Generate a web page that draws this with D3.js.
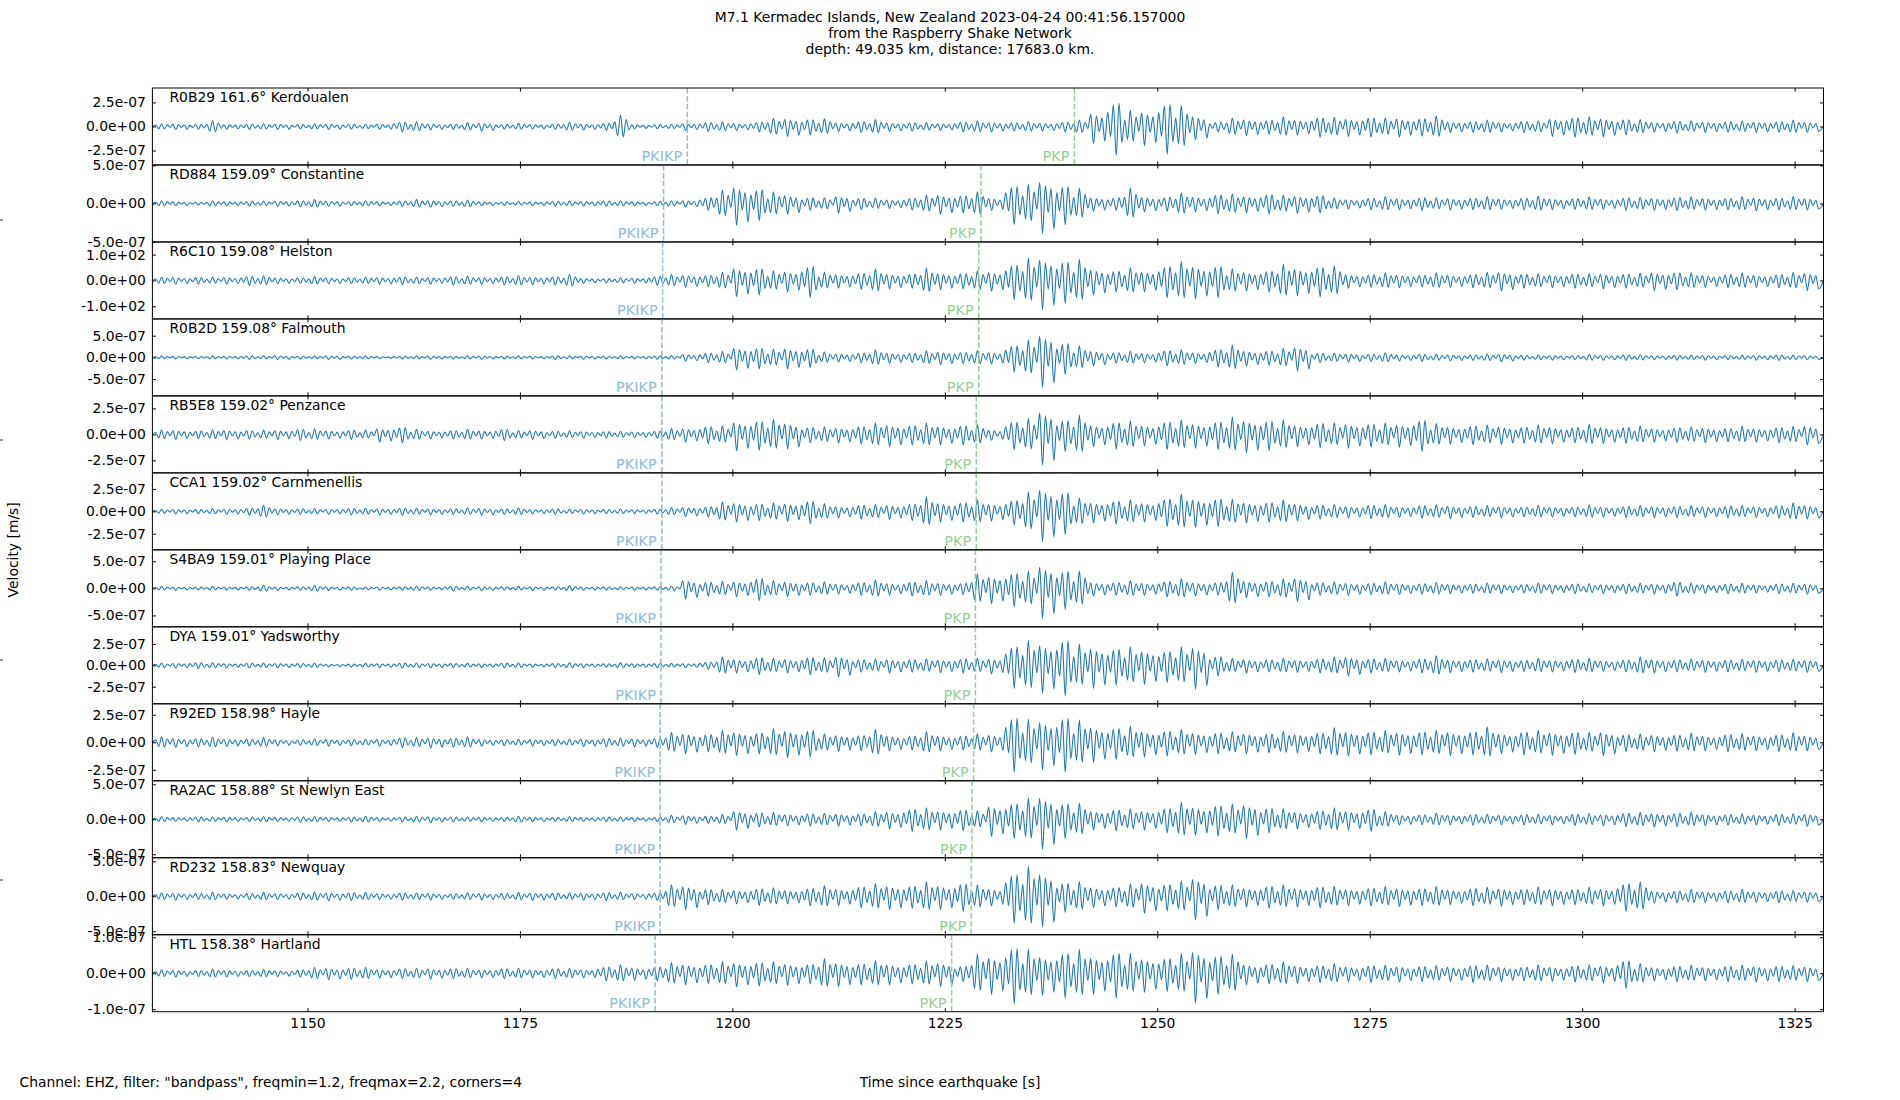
<!DOCTYPE html>
<html>
<head>
<meta charset="utf-8">
<script src="https://cdn.jsdelivr.net/npm/d3@7"></script>
<style>
  body { margin: 0; background: #fff; }
  svg { font-family: "DejaVu Sans", sans-serif; }
</style>
</head>
<body>
<div id="chart"></div>
<script>
// Stations, top to bottom
const stations = ["R0B29", "RD884", "R6C10", "R0B2D", "RB5E8", "CCA1", "S4BA9", "DYA", "R92ED", "RA2AC", "RD232", "HTL"];
const distances = ["161.6", "159.09", "159.08", "159.08", "159.02", "159.02", "159.01", "159.01", "158.98", "158.88", "158.83", "158.38"];
const places = ["Kerdoualen", "Constantine", "Helston", "Falmouth", "Penzance", "Carnmenellis", "Playing Place", "Yadsworthy", "Hayle", "St Newlyn East", "Newquay", "Hartland"];

// y limit (+/-) and labelled tick of each panel
const yMax = [4.0e-7, 5.05e-7, 149, 8.85e-7, 3.7e-7, 4.3e-7, 7.1e-7, 4.5e-7, 3.5e-7, 5.5e-7, 5.5e-7, 1.07e-7];
const tickStep = [2.5e-7, 5e-7, 100, 5e-7, 2.5e-7, 2.5e-7, 5e-7, 2.5e-7, 2.5e-7, 5e-7, 5e-7, 1e-7];

// phase arrival times [s]
const pkikpTimes = [1194.7, 1191.9, 1191.8, 1191.7, 1191.7, 1191.7, 1191.6, 1191.6, 1191.5, 1191.5, 1191.5, 1190.9];
const pkpTimes = [1240.25, 1229.25, 1229.0, 1229.0, 1228.7, 1228.7, 1228.6, 1228.6, 1228.4, 1228.2, 1228.1, 1225.8];

const xTicks = [1150, 1175, 1200, 1225, 1250, 1275, 1300, 1325];
const xDomain = [1131.75, 1328.4];

// trace envelopes: 2 s bins from 1132 s, fraction of each panel's y limit
const binStart = 1132;
const binWidth = 2;
const envR0B29 = [0.07,0.08,0.07,0.15,0.07,0.08,0.07,0.08,0.06,0.07,
  0.08,0.07,0.06,0.08,0.14,0.12,0.09,0.08,0.10,0.12,
  0.07,0.08,0.07,0.08,0.11,0.09,0.10,0.30,0.06,0.06,
  0.06,0.10,0.13,0.12,0.10,0.14,0.22,0.26,0.22,0.20,
  0.13,0.15,0.18,0.13,0.12,0.10,0.10,0.14,0.15,0.14,
  0.12,0.13,0.12,0.14,0.17,0.45,0.75,0.42,0.50,0.72,
  0.55,0.35,0.14,0.22,0.24,0.20,0.25,0.22,0.28,0.24,
  0.26,0.28,0.22,0.27,0.25,0.28,0.16,0.15,0.17,0.14,
  0.16,0.15,0.26,0.28,0.25,0.27,0.22,0.18,0.15,0.17,
  0.14,0.16,0.15,0.14,0.16,0.15,0.17,0.15];
const envRD884 = [0.07,0.06,0.04,0.07,0.06,0.07,0.06,0.08,0.09,0.10,
  0.08,0.06,0.07,0.06,0.08,0.10,0.10,0.08,0.09,0.06,
  0.05,0.05,0.06,0.07,0.06,0.07,0.08,0.07,0.06,0.06,
  0.07,0.10,0.18,0.35,0.57,0.45,0.30,0.28,0.18,0.15,
  0.25,0.16,0.14,0.13,0.17,0.22,0.28,0.25,0.30,0.18,
  0.55,0.50,0.78,0.55,0.40,0.20,0.18,0.40,0.22,0.20,
  0.28,0.22,0.27,0.25,0.24,0.28,0.22,0.26,0.25,0.15,
  0.14,0.17,0.18,0.16,0.18,0.15,0.17,0.16,0.18,0.15,
  0.17,0.19,0.16,0.15,0.17,0.15,0.18,0.16,0.18,0.19,
  0.17,0.18,0.16,0.18,0.19,0.17,0.18,0.17];
const envR6C10 = [0.09,0.10,0.09,0.08,0.10,0.13,0.12,0.09,0.08,0.10,
  0.09,0.08,0.09,0.10,0.11,0.09,0.10,0.12,0.11,0.10,
  0.12,0.13,0.11,0.12,0.16,0.07,0.06,0.07,0.08,0.13,
  0.15,0.18,0.16,0.22,0.42,0.38,0.25,0.30,0.45,0.22,
  0.20,0.23,0.30,0.22,0.20,0.32,0.24,0.22,0.25,0.28,
  0.50,0.58,0.76,0.60,0.55,0.38,0.30,0.33,0.30,0.45,
  0.50,0.48,0.45,0.30,0.28,0.30,0.42,0.40,0.43,0.38,
  0.20,0.18,0.20,0.19,0.17,0.20,0.18,0.19,0.21,0.28,
  0.20,0.18,0.19,0.20,0.18,0.22,0.20,0.19,0.27,0.25,
  0.20,0.18,0.19,0.20,0.18,0.19,0.21,0.26];
const envR0B2D = [0.04,0.04,0.03,0.04,0.04,0.05,0.04,0.06,0.04,0.04,
  0.06,0.04,0.04,0.03,0.04,0.04,0.05,0.04,0.04,0.05,
  0.04,0.04,0.04,0.05,0.04,0.05,0.04,0.04,0.04,0.05,
  0.05,0.10,0.13,0.15,0.33,0.30,0.22,0.30,0.26,0.14,
  0.12,0.14,0.20,0.15,0.13,0.17,0.19,0.16,0.18,0.17,
  0.38,0.45,0.78,0.45,0.30,0.22,0.15,0.16,0.14,0.22,
  0.20,0.16,0.25,0.32,0.22,0.20,0.24,0.35,0.13,0.11,
  0.12,0.10,0.12,0.09,0.10,0.08,0.09,0.08,0.09,0.11,
  0.07,0.06,0.07,0.06,0.08,0.07,0.08,0.07,0.06,0.07,
  0.06,0.07,0.06,0.06,0.07,0.08,0.06,0.06];
const envRB5E8 = [0.12,0.13,0.11,0.12,0.14,0.12,0.11,0.13,0.16,0.14,
  0.12,0.13,0.11,0.20,0.22,0.13,0.11,0.12,0.13,0.12,
  0.16,0.10,0.13,0.10,0.09,0.10,0.09,0.08,0.09,0.10,
  0.15,0.20,0.25,0.22,0.43,0.42,0.40,0.38,0.22,0.20,
  0.22,0.25,0.30,0.32,0.28,0.30,0.27,0.28,0.25,0.15,
  0.40,0.42,0.80,0.45,0.50,0.32,0.38,0.35,0.30,0.40,
  0.38,0.36,0.40,0.45,0.48,0.42,0.38,0.32,0.35,0.30,
  0.36,0.33,0.30,0.34,0.45,0.28,0.25,0.27,0.24,0.26,
  0.23,0.25,0.24,0.22,0.26,0.24,0.23,0.22,0.20,0.21,
  0.20,0.22,0.19,0.21,0.20,0.22,0.21,0.28];
const envCCA1 = [0.06,0.07,0.06,0.07,0.08,0.10,0.16,0.09,0.08,0.07,
  0.08,0.09,0.08,0.09,0.10,0.08,0.09,0.08,0.09,0.10,
  0.08,0.09,0.07,0.08,0.06,0.07,0.06,0.06,0.06,0.07,
  0.10,0.14,0.15,0.25,0.28,0.24,0.22,0.26,0.32,0.20,
  0.17,0.20,0.18,0.21,0.24,0.38,0.28,0.28,0.30,0.25,
  0.35,0.50,0.78,0.60,0.35,0.30,0.33,0.30,0.28,0.40,
  0.45,0.42,0.40,0.32,0.30,0.28,0.30,0.25,0.20,0.18,
  0.17,0.19,0.18,0.16,0.18,0.17,0.19,0.16,0.15,0.17,
  0.14,0.16,0.15,0.14,0.17,0.15,0.16,0.15,0.17,0.16,
  0.15,0.16,0.17,0.15,0.16,0.18,0.22,0.20];
const envS4BA9 = [0.05,0.05,0.04,0.05,0.05,0.05,0.08,0.05,0.05,0.08,
  0.06,0.05,0.04,0.05,0.05,0.06,0.05,0.07,0.05,0.06,
  0.05,0.05,0.06,0.05,0.07,0.05,0.05,0.04,0.05,0.05,
  0.06,0.28,0.20,0.18,0.22,0.32,0.20,0.22,0.18,0.17,
  0.15,0.18,0.22,0.17,0.20,0.20,0.18,0.16,0.38,0.40,
  0.48,0.45,0.78,0.55,0.45,0.20,0.18,0.20,0.18,0.22,
  0.25,0.20,0.18,0.42,0.25,0.22,0.25,0.35,0.18,0.17,
  0.18,0.16,0.17,0.16,0.15,0.16,0.14,0.13,0.14,0.13,
  0.12,0.14,0.13,0.14,0.12,0.13,0.14,0.13,0.15,0.20,
  0.14,0.13,0.14,0.13,0.12,0.14,0.13,0.15];
const envDYA = [0.06,0.07,0.09,0.07,0.06,0.07,0.06,0.07,0.06,0.06,
  0.04,0.04,0.05,0.06,0.07,0.06,0.07,0.06,0.05,0.06,
  0.07,0.06,0.05,0.06,0.07,0.06,0.05,0.07,0.06,0.06,
  0.05,0.06,0.10,0.22,0.20,0.24,0.18,0.20,0.25,0.20,
  0.30,0.18,0.16,0.20,0.18,0.17,0.19,0.20,0.18,0.22,
  0.60,0.65,0.72,0.80,0.55,0.60,0.52,0.48,0.50,0.45,
  0.48,0.62,0.28,0.18,0.20,0.17,0.19,0.18,0.20,0.22,
  0.28,0.20,0.18,0.17,0.20,0.25,0.19,0.18,0.17,0.19,
  0.16,0.18,0.17,0.19,0.18,0.16,0.17,0.22,0.20,0.17,
  0.16,0.18,0.17,0.16,0.18,0.17,0.16,0.18];
const envR92ED = [0.14,0.13,0.12,0.13,0.11,0.10,0.12,0.09,0.08,0.09,
  0.10,0.09,0.08,0.10,0.14,0.12,0.15,0.13,0.14,0.10,
  0.09,0.08,0.10,0.09,0.08,0.11,0.12,0.11,0.12,0.13,
  0.26,0.30,0.25,0.32,0.35,0.30,0.36,0.40,0.38,0.22,
  0.24,0.22,0.34,0.22,0.20,0.28,0.22,0.20,0.22,0.25,
  0.78,0.60,0.72,0.78,0.58,0.52,0.45,0.42,0.38,0.36,
  0.34,0.32,0.30,0.28,0.30,0.27,0.29,0.28,0.30,0.38,
  0.36,0.33,0.31,0.34,0.33,0.32,0.35,0.33,0.40,0.30,
  0.33,0.31,0.34,0.32,0.26,0.35,0.24,0.22,0.25,0.23,
  0.24,0.22,0.25,0.23,0.22,0.24,0.25,0.22];
const envRA2AC = [0.07,0.06,0.07,0.06,0.07,0.06,0.07,0.06,0.08,0.07,
  0.06,0.07,0.08,0.06,0.07,0.08,0.09,0.07,0.06,0.07,
  0.06,0.08,0.07,0.06,0.07,0.06,0.07,0.06,0.06,0.06,
  0.10,0.13,0.10,0.12,0.28,0.20,0.18,0.17,0.18,0.16,
  0.18,0.17,0.20,0.25,0.32,0.30,0.28,0.30,0.22,0.45,
  0.50,0.55,0.78,0.50,0.42,0.28,0.30,0.27,0.28,0.35,
  0.45,0.42,0.44,0.40,0.50,0.35,0.28,0.25,0.27,0.30,
  0.28,0.32,0.20,0.15,0.14,0.16,0.14,0.15,0.13,0.14,
  0.15,0.13,0.14,0.16,0.15,0.17,0.19,0.18,0.20,0.19,
  0.18,0.17,0.15,0.14,0.15,0.16,0.14,0.18];
const envRD232 = [0.09,0.10,0.09,0.10,0.08,0.09,0.10,0.09,0.10,0.11,
  0.12,0.11,0.10,0.09,0.10,0.09,0.10,0.08,0.09,0.10,
  0.09,0.10,0.11,0.10,0.09,0.10,0.11,0.10,0.09,0.11,
  0.30,0.35,0.22,0.18,0.20,0.24,0.22,0.20,0.25,0.28,
  0.24,0.30,0.33,0.35,0.32,0.38,0.35,0.40,0.30,0.25,
  0.70,0.78,0.80,0.42,0.38,0.30,0.28,0.32,0.45,0.38,
  0.40,0.62,0.35,0.30,0.28,0.32,0.30,0.28,0.30,0.26,
  0.24,0.26,0.25,0.27,0.24,0.26,0.22,0.25,0.23,0.26,
  0.22,0.24,0.25,0.22,0.23,0.25,0.40,0.38,0.18,0.17,
  0.18,0.16,0.17,0.18,0.16,0.17,0.15,0.16];
const envHTL = [0.09,0.10,0.09,0.11,0.10,0.09,0.10,0.09,0.10,0.15,
  0.17,0.16,0.15,0.13,0.14,0.13,0.15,0.14,0.13,0.12,
  0.14,0.13,0.12,0.14,0.13,0.12,0.20,0.22,0.18,0.20,
  0.28,0.30,0.27,0.30,0.36,0.34,0.30,0.32,0.28,0.38,
  0.35,0.30,0.33,0.30,0.28,0.32,0.35,0.22,0.50,0.55,
  0.80,0.62,0.58,0.65,0.62,0.55,0.65,0.52,0.50,0.48,
  0.52,0.78,0.55,0.50,0.30,0.28,0.30,0.26,0.24,0.25,
  0.22,0.24,0.21,0.23,0.22,0.20,0.22,0.24,0.21,0.22,
  0.20,0.22,0.21,0.23,0.22,0.25,0.40,0.25,0.20,0.22,
  0.21,0.20,0.22,0.21,0.23,0.22,0.20,0.22];
const envelopes = [envR0B29, envRD884, envR6C10, envR0B2D, envRB5E8, envCCA1,
  envS4BA9, envDYA, envR92ED, envRA2AC, envRD232, envHTL];

// 6 swings per bin; relative height of each swing, cycled over bins
const swingShapes = [
  [0.4, 0.8, 1.0, 0.9, 0.6, 0.3],
  [0.7, 1.0, 0.6, 0.3, 0.5, 0.85],
  [0.5, 0.35, 0.75, 1.0, 0.8, 0.55]
];

const width = 1900, height = 1100;
const margin = { top: 88, right: 76.5, bottom: 88.3, left: 152.4 };
const plotW = width - margin.left - margin.right;
const panelH = (height - margin.top - margin.bottom) / stations.length;
const font = "13.9px";
const traceColor = "#1f77b4";
const pkikpColor = "#8fbbd9";
const pkpColor = "#95cf95";

const svg = d3.select("#chart")
  .append("svg")
  .attr("width", width)
  .attr("height", height);

const x = d3.scaleLinear().domain(xDomain).range([0, plotW]);

// tick exponent with two digits like matplotlib
function sci(v) {
  if (v === 0) return "0.0e+00";
  const parts = v.toExponential(1).split("e");
  const e = +parts[1];
  return parts[0] + "e" + (e < 0 ? "-" : "+") + String(Math.abs(e)).padStart(2, "0");
}

function traceOf(env, ymax) {
  const pts = [[xDomain[0], 0]];
  env.forEach((a, i) => {
    const shape = swingShapes[i % swingShapes.length];
    const step = binWidth / shape.length;
    shape.forEach((s, k) => {
      const sign = k % 2 === 0 ? 1 : -1;
      pts.push([binStart + i * binWidth + (k + 0.5) * step, sign * a * s * ymax]);
    });
  });
  pts.push([xDomain[1], 0]);
  return pts;
}

svg.append("defs").append("clipPath")
  .attr("id", "panelClip")
  .append("rect")
  .attr("width", plotW)
  .attr("height", panelH);

stations.forEach((st, i) => {
  const g = svg.append("g")
    .attr("transform", "translate(" + margin.left + "," + (margin.top + i * panelH) + ")");

  const y = d3.scaleLinear().domain([-yMax[i], yMax[i]]).range([panelH, 0]);

  // waveform
  const line = d3.line().x(d => x(d[0])).y(d => y(d[1])).curve(d3.curveMonotoneX);
  g.append("path")
    .datum(traceOf(envelopes[i], yMax[i]))
    .attr("clip-path", "url(#panelClip)")
    .attr("fill", "none")
    .attr("stroke", traceColor)
    .attr("stroke-width", 1.1)
    .attr("d", line);

  // phase arrivals
  [[pkikpTimes[i], "PKIKP", pkikpColor], [pkpTimes[i], "PKP", pkpColor]].forEach(p => {
    g.append("line")
      .attr("x1", x(p[0])).attr("x2", x(p[0]))
      .attr("y1", 0).attr("y2", panelH)
      .attr("stroke", p[2])
      .attr("stroke-width", 1.5)
      .attr("stroke-dasharray", "5.5,2.4");
    g.append("text")
      .attr("x", x(p[0]) - 5)
      .attr("y", panelH - 3.5)
      .attr("text-anchor", "end")
      .style("font-size", "14.5px")
      .attr("fill", p[2])
      .text(p[1]);
  });

  // station label
  g.append("text")
    .attr("x", 17)
    .attr("y", 14)
    .style("font-size", font)
    .text(st + " " + distances[i] + "\u00b0 " + places[i]);

  // y axes, ticks pointing in
  const yt = [-tickStep[i], 0, tickStep[i]];
  g.append("g")
    .call(d3.axisLeft(y).tickValues(yt).tickSize(-3.5).tickPadding(6.5).tickFormat(sci))
    .call(a => a.select(".domain").remove())
    .call(a => a.selectAll("text").style("font-size", font).attr("fill", "#000").style("font-family", "DejaVu Sans"));
  g.append("g")
    .attr("transform", "translate(" + plotW + ",0)")
    .call(d3.axisRight(y).tickValues(yt).tickSize(-3.5).tickFormat(""))
    .call(a => a.select(".domain").remove());

  // x ticks top and bottom
  g.append("g")
    .call(d3.axisTop(x).tickValues(xTicks).tickSize(-3.5).tickFormat(""))
    .call(a => a.select(".domain").remove());
  const last = i === stations.length - 1;
  g.append("g")
    .attr("transform", "translate(0," + panelH + ")")
    .call(d3.axisBottom(x).tickValues(xTicks).tickSize(-3.5).tickPadding(6.5)
      .tickFormat(last ? d3.format("d") : ""))
    .call(a => a.select(".domain").remove())
    .call(a => a.selectAll("text").style("font-size", font).attr("fill", "#000").style("font-family", "DejaVu Sans"));

  // frame
  g.append("rect")
    .attr("width", plotW)
    .attr("height", panelH)
    .attr("fill", "none")
    .attr("stroke", "#000")
    .attr("stroke-width", 1);
});

// title
const title = [
  "M7.1 Kermadec Islands, New Zealand 2023-04-24 00:41:56.157000",
  "from the Raspberry Shake Network",
  "depth: 49.035 km, distance: 17683.0 km."
];
svg.append("g").selectAll("text")
  .data(title)
  .enter()
  .append("text")
  .attr("x", width / 2)
  .attr("y", (d, k) => 22 + k * 16.2)
  .attr("text-anchor", "middle")
  .style("font-size", font)
  .text(d => d);

// y label
svg.append("text")
  .attr("transform", "translate(18," + (margin.top + (height - margin.top - margin.bottom) / 2) + ") rotate(-90)")
  .attr("text-anchor", "middle")
  .style("font-size", font)
  .text("Velocity [m/s]");

// stray ticks of the figure-wide label axis
svg.append("g").selectAll("line")
  .data([0.2, 0.4, 0.6, 0.8])
  .enter()
  .append("line")
  .attr("x1", 0).attr("x2", 3)
  .attr("y1", d => height * (1 - d)).attr("y2", d => height * (1 - d))
  .attr("stroke", "#000")
  .attr("stroke-width", 0.8);

// footer texts
svg.append("text")
  .attr("x", 19.5)
  .attr("y", 1087)
  .style("font-size", font)
  .text('Channel: EHZ, filter: "bandpass", freqmin=1.2, freqmax=2.2, corners=4');

svg.append("text")
  .attr("x", width / 2)
  .attr("y", 1087)
  .attr("text-anchor", "middle")
  .style("font-size", font)
  .text("Time since earthquake [s]");
</script>
</body>
</html>
